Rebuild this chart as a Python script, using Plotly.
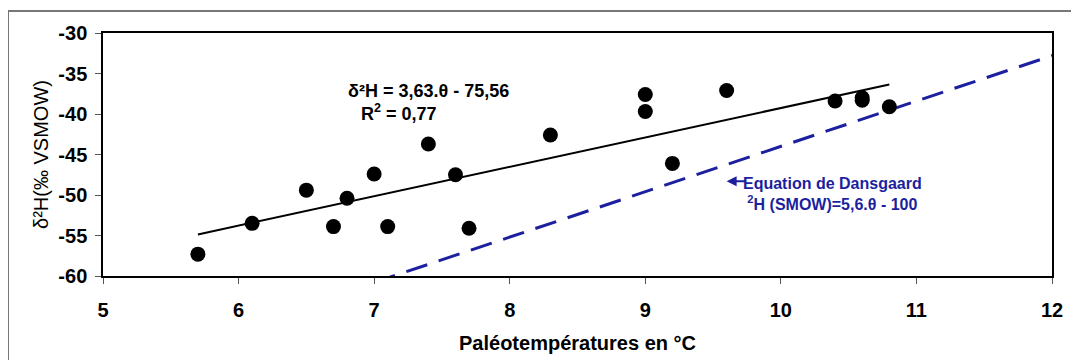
import plotly.graph_objects as go

# Data
temp_c = [5.7, 6.1, 6.5, 6.7, 6.8, 7.0, 7.1, 7.4, 7.6, 7.7, 8.3, 9.0, 9.0, 9.2, 9.6, 10.4, 10.6, 10.6, 10.8]
d2h = [-57.3, -53.5, -49.4, -53.9, -50.4, -47.4, -53.9, -43.7, -47.5, -54.1, -42.6, -37.6, -39.7, -46.1, -37.1, -38.4, -38.0, -38.3, -39.1]

trend_x = [5.7, 10.8]
trend_y = [-54.87, -36.36]

dans_x = [7.0, 12.2]
dans_y = [-60.8, -31.68]

x_ticks = [5, 6, 7, 8, 9, 10, 11, 12]
x_ticklabels = ["5", "6", "7", "8", "9", "10", "11", "12"]
y_ticks = [-60, -55, -50, -45, -40, -35, -30]
y_ticklabels = ["-60", "-55", "-50", "-45", "-40", "-35", "-30"]

FONT = "Liberation Sans, Arial, sans-serif"
BLUE = "#1c1f9e"

fig = go.Figure()

fig.add_trace(go.Scatter(
    x=dans_x, y=dans_y, mode="lines",
    line=dict(color=BLUE, width=3, dash="22px,12px"),
    cliponaxis=False, showlegend=False, hoverinfo="skip"))

fig.add_trace(go.Scatter(
    x=trend_x, y=trend_y, mode="lines",
    line=dict(color="black", width=2),
    showlegend=False, hoverinfo="skip"))

fig.add_trace(go.Scatter(
    x=temp_c, y=d2h, mode="markers",
    marker=dict(color="black", size=15),
    showlegend=False))

fig.update_layout(
    width=1079, height=360,
    margin=dict(l=95, r=35, t=25, b=92, autoexpand=False),
    paper_bgcolor="white", plot_bgcolor="white",
    font=dict(family=FONT, color="black"),
    xaxis=dict(
        range=[5, 12], tickvals=x_ticks, ticktext=x_ticklabels,
        showgrid=False, zeroline=False, automargin=False,
        showline=True, linecolor="black", linewidth=1.5, mirror=True,
        ticks="outside", ticklen=6, tickcolor="#555", tickwidth=1,
        tickfont=dict(size=20, family=FONT, weight="bold"),
        ticklabelstandoff=9,
        title=dict(text="<b>Paléotempératures en °C</b>", font=dict(size=20), standoff=16),
    ),
    yaxis=dict(
        range=[-60, -30], tickvals=y_ticks, ticktext=y_ticklabels,
        showgrid=False, zeroline=False, automargin=False,
        showline=True, linecolor="black", linewidth=1.5, mirror=True,
        ticks="outside", ticklen=6, tickcolor="#555", tickwidth=1,
        tickfont=dict(size=20, family=FONT, weight="bold"),
        ticklabelstandoff=4,
        title=dict(text="δ²H(‰ VSMOW)", font=dict(size=20), standoff=4),
    ),
    shapes=[dict(type="rect", xref="paper", yref="paper",
                 x0=-0.1001, x1=1.2, y0=-0.6, y1=1.0905,
                 line=dict(color="#777", width=2), layer="below")],
    annotations=[
        dict(x=7.40, y=-37.16, xref="x", yref="y", showarrow=False,
             text="<b>δ²H = 3,63.θ - 75,56</b>", font=dict(size=18, color="black")),
        dict(x=7.18, y=-39.84, xref="x", yref="y", showarrow=False,
             text="<b>R<sup>2</sup> = 0,77</b>", font=dict(size=18, color="black")),
        dict(x=10.38, y=-49.9, xref="x", yref="y", showarrow=False, align="center",
             text="<b>Equation de Dansgaard<br><sup>2</sup>H (SMOW)=5,6.θ - 100</b>",
             font=dict(size=16, color=BLUE)),
        dict(x=9.6, y=-48.3, xref="x", yref="y", text="", showarrow=True,
             ax=21, ay=0, arrowhead=2, arrowsize=1, arrowwidth=2, arrowcolor=BLUE),
    ],
)

fig.write_html("out.html")
